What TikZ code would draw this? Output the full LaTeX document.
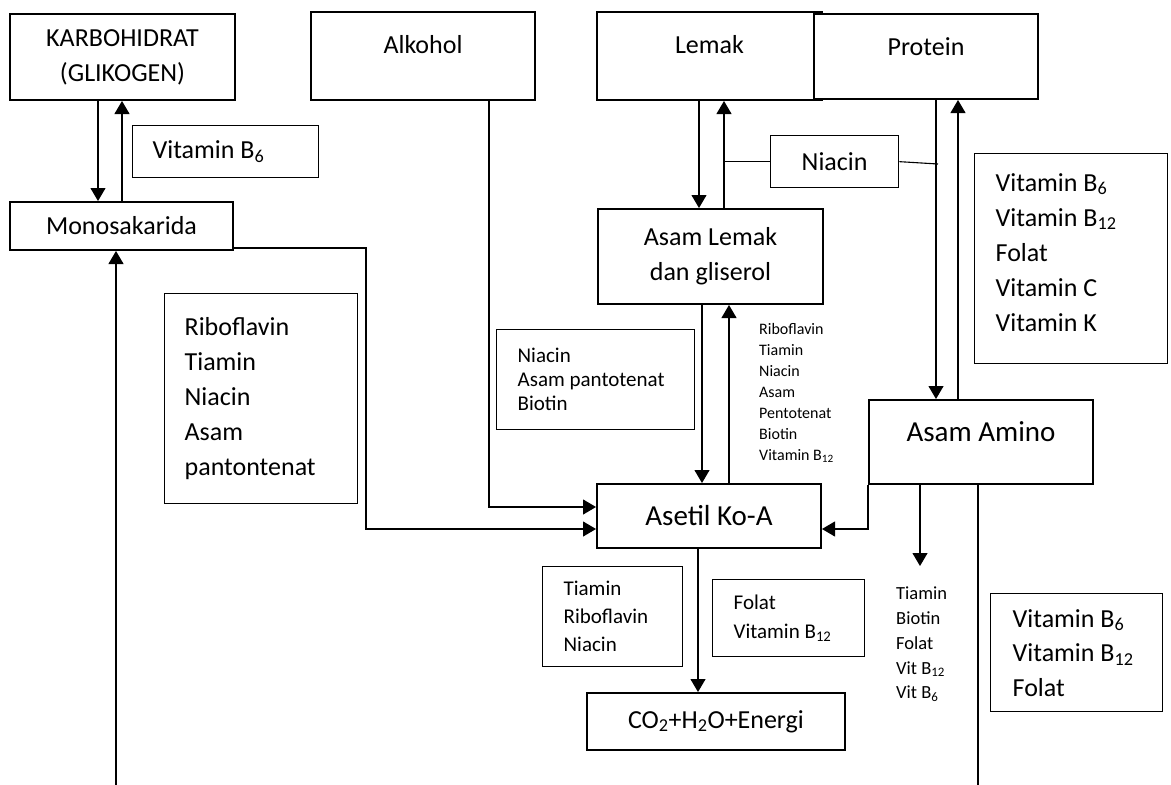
\documentclass[tikz,border=0pt]{standalone}
\usepackage{fontspec}
\setmainfont{Carlito}
\usetikzlibrary{arrows.meta}
\newcommand\fs[2]{\fontsize{#1pt}{#2pt}\selectfont}
\tikzset{
  thickbox/.style={draw, line width=2pt, fill=white, anchor=north west, inner sep=0pt, font=\fs{26}{35}},
  thinbox/.style={draw, line width=1.3pt, fill=white, anchor=north west, inner sep=0pt},
  plain/.style={anchor=north west, inner sep=0pt, align=left},
  tight/.style={execute at begin node={\spaceskip=0pt\xspaceskip=0pt\relax}},
  ln/.style={line width=1.1pt},
  arr/.style={ln, -{Triangle[width=15pt,length=13pt]}},
}
\begin{document}
\begin{tikzpicture}[x=1pt,y=-1pt]
\fill[white] (0,0) rectangle (1171,785);
\useasboundingbox (0,0) rectangle (1171,785);

% boxes
\node[thickbox, minimum width=225pt, minimum height=86pt, align=center] (karb) at (9,13) {KARBOHIDRAT\\(GLIKOGEN)};
\node[thinbox, tight, font=\fs{26}{35}, minimum width=186pt, minimum height=52pt, inner xsep=20pt, text width=146pt, align=left] (vitb6) at (132,125) {Vitamin B\textsubscript{6}};
\node[thickbox, minimum width=223pt, minimum height=48pt] (mono) at (9,201) {Monosakarida};
\node[thickbox, minimum width=224pt, minimum height=88pt, text height=18pt, text depth=23pt] (alkohol) at (310,11) {Alkohol};
\node[thickbox, minimum width=225pt, minimum height=88pt, text height=18pt, text depth=23pt] (lemak) at (596,11) {Lemak};
\node[thickbox, minimum width=224pt, minimum height=85pt, text height=18pt, text depth=20pt] (protein) at (813,13) {Protein};
\node[thinbox, font=\fs{26}{35}, minimum width=128pt, minimum height=52pt] (niacin) at (770,135) {Niacin};
\node[thickbox, minimum width=225pt, minimum height=95pt, align=center] (asamlemak) at (597,208) {Asam Lemak\\dan gliserol};
\node[thinbox, tight, font=\fs{26}{35}, minimum width=193pt, minimum height=210pt, inner xsep=21pt, text width=151pt, align=left, text depth=153pt] (vitlist) at (974,153) {Vitamin B\textsubscript{6}\\Vitamin B\textsubscript{12}\\Folat\\Vitamin C\\Vitamin K};
\node[thinbox, tight, font=\fs{26}{35}, minimum width=193pt, minimum height=210pt, inner xsep=20pt, text width=153pt, align=left] (rib) at (164,293) {Riboflavin\\Tiamin\\Niacin\\Asam\\pantontenat};
\node[thinbox, tight, font=\fs{21}{24}, minimum width=198pt, minimum height=100pt, inner xsep=21pt, text width=156pt, align=left] (nab) at (496,329) {Niacin\\Asam pantotenat\\Biotin};
\node[plain, tight, text width=100pt, font=\fs{16}{21}] (lipidlist) at (759,323) {Riboflavin\\Tiamin\\Niacin\\Asam\\Pentotenat\\Biotin\\Vitamin B\textsubscript{12}};
\node[thickbox, font=\fs{29}{35}, minimum width=224pt, minimum height=64pt] (asetil) at (596,483) {Asetil Ko-A};
\node[thickbox, font=\fs{29}{35}, minimum width=224pt, minimum height=84pt, text height=20pt, text depth=21pt] (amino) at (868,399) {Asam Amino};
\node[plain, tight, text width=70pt, font=\fs{18.5}{24.7}] (aminolist) at (896,587) {Tiamin\\Biotin\\Folat\\Vit B\textsubscript{12}\\Vit B\textsubscript{6}};
\node[thinbox, tight, font=\fs{26}{34.5}, minimum width=172pt, minimum height=118pt, inner xsep=22pt, text width=128pt, align=left] (bvf) at (990,593) {Vitamin B\textsubscript{6}\\Vitamin B\textsubscript{12}\\Folat};
\node[thinbox, tight, font=\fs{21}{28}, minimum width=140pt, minimum height=100pt, inner xsep=21pt, text width=98pt, align=left] (trn) at (542,566) {Tiamin\\Riboflavin\\Niacin};
\node[thinbox, tight, font=\fs{21}{28.5}, minimum width=152pt, minimum height=77pt, inner xsep=21pt, text width=110pt, align=left] (fb) at (712,579) {Folat\\Vitamin B\textsubscript{12}};
\node[thickbox, minimum width=258pt, minimum height=57pt] (co2) at (586,692) {CO\textsubscript{2}+H\textsubscript{2}O+Energi};

% free ends
\coordinate (nj) at (938,164);
\coordinate (aminotip) at (920,566);
\coordinate (aminoend) at (978,785);
\coordinate (leftstart) at (116,785);

% connectors
\draw[arr] (98,0 |- karb.south) -- (98,0 |- mono.north);
\draw[arr] (122,0 |- mono.north) -- (122,0 |- karb.south);
\draw[arr] (699,0 |- lemak.south) -- (699,0 |- asamlemak.north);
\draw[arr] (724,0 |- asamlemak.north) -- (724,0 |- lemak.south);
\draw[ln] (niacin.west) -- (724,0 |- niacin.west);
\draw[ln] (niacin.east) -- (nj);
\draw[arr] (936,0 |- protein.south) -- (936,0 |- amino.north);
\draw[arr] (958,0 |- amino.north) -- (958,0 |- protein.south);
\draw[arr] (702,0 |- asamlemak.south) -- (702,0 |- asetil.north);
\draw[arr] (729,0 |- asetil.north) -- (729,0 |- asamlemak.south);
\draw[arr] (489,0 |- alkohol.south) -- (489,507) -- (asetil.west |- 0,507);
\draw[arr] (mono.east |- 0,248) -- (366,248) -- (366,529) -- (asetil.west |- 0,529);
\draw[arr] (amino.south west) -- (868,529) -- (asetil.east |- 0,529);
\draw[arr] (920,0 |- amino.south) -- (aminotip);
\draw[ln] (978,0 |- amino.south) -- (aminoend);
\draw[arr] (leftstart) -- (116,0 |- mono.south);
\draw[arr] (698,0 |- asetil.south) -- (698,0 |- co2.north);
\end{tikzpicture}
\end{document}
